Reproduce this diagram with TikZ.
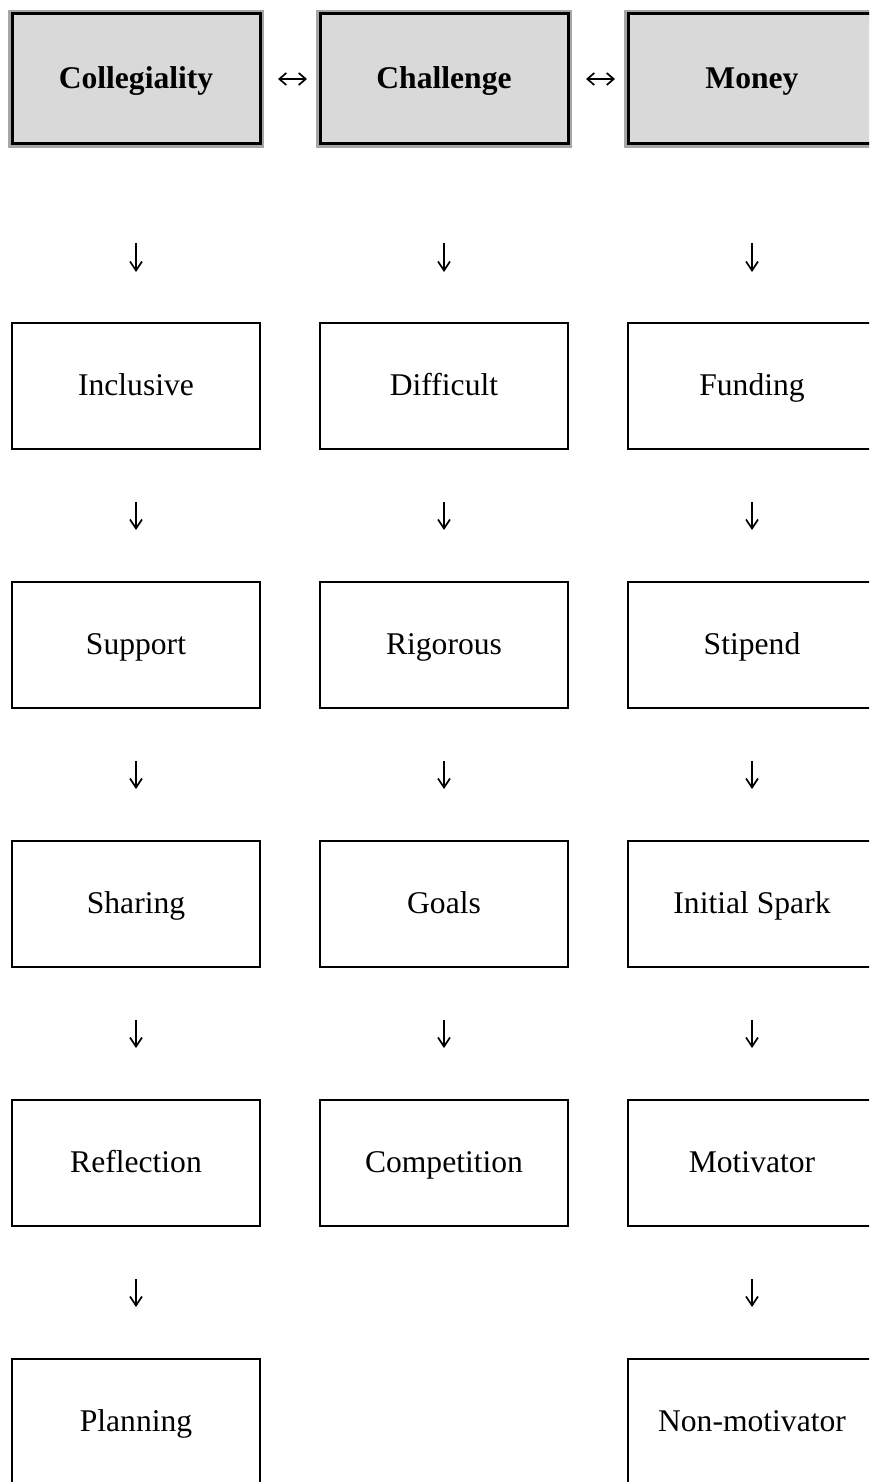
\documentclass[tikz,border=0pt]{standalone}
\usepackage{fontspec}
\setmainfont{Liberation Serif}
\usetikzlibrary{positioning, arrows.meta}

\begin{document}
\begin{tikzpicture}
    [
        node distance=129.5pt and 154pt, on grid, font=\fontsize{15.8}{19}\selectfont,
        head_box/.style={rectangle, draw=black, fill=black!15, line width=1.5pt, minimum width=124pt, minimum height=65pt, inner sep=0pt, outer sep=0pt, text height=1.1em, text depth=0.18em, font=\fontsize{15.8}{19}\selectfont\bfseries, preaction={draw=black!35, line width=4pt}},
        plain_box/.style={rectangle, draw=black, fill=white, line width=1pt, minimum width=124pt, minimum height=63pt, inner sep=0pt, outer sep=0pt, text height=1.1em, text depth=0.18em},
        down_arrow/.style={-{Straight Barb[length=4.5pt, width=6pt]}, line width=0.85pt, shorten <=26.5pt, shorten >=26pt},
        pair_arrow/.style={{Straight Barb[length=3.5pt, width=6pt]}-{Straight Barb[length=3.5pt, width=6pt]}, line width=0.85pt, shorten <=9pt, shorten >=6.5pt},
    ]
        \useasboundingbox (0pt,0pt) rectangle (434.5pt,-741pt) ;
        \clip (0pt,0pt) rectangle (434.5pt,-741pt) ;
        \node[head_box] (coll) at (68pt,-39.5pt) {Collegiality} ;
        \node[head_box] (chal) [right = of coll] {Challenge} ;
        \node[head_box] (money) [right = of chal] {Money} ;
        \node[plain_box] (incl) [below = 153.5pt of coll] {Inclusive} ;
        \node[plain_box] (supp) [below = of incl] {Support} ;
        \node[plain_box] (shar) [below = of supp] {Sharing} ;
        \node[plain_box] (refl) [below = of shar] {Reflection} ;
        \node[plain_box] (plan) [below = of refl] {Planning} ;
        \node[plain_box] (diff) [below = 153.5pt of chal] {Difficult} ;
        \node[plain_box] (rigo) [below = of diff] {Rigorous} ;
        \node[plain_box] (goal) [below = of rigo] {Goals} ;
        \node[plain_box] (comp) [below = of goal] {Competition} ;
        \node[plain_box] (fund) [below = 153.5pt of money] {Funding} ;
        \node[plain_box] (stip) [below = of fund] {Stipend} ;
        \node[plain_box] (spark) [below = of stip] {Initial Spark} ;
        \node[plain_box] (moti) [below = of spark] {Motivator} ;
        \node[plain_box] (nonmoti) [below = of moti] {Non-motivator} ;
        \draw[pair_arrow] (coll) -- (chal) ;
        \draw[pair_arrow] (chal) -- (money) ;
        \draw[down_arrow, shorten <=49.5pt, shorten >=25.5pt] (coll) -- (incl) ;
        \draw[down_arrow, shorten <=49.5pt, shorten >=25.5pt] (chal) -- (diff) ;
        \draw[down_arrow, shorten <=49.5pt, shorten >=25.5pt] (money) -- (fund) ;
        \draw[down_arrow] (incl) -- (supp) ;
        \draw[down_arrow] (supp) -- (shar) ;
        \draw[down_arrow] (shar) -- (refl) ;
        \draw[down_arrow] (refl) -- (plan) ;
        \draw[down_arrow] (diff) -- (rigo) ;
        \draw[down_arrow] (rigo) -- (goal) ;
        \draw[down_arrow] (goal) -- (comp) ;
        \draw[down_arrow] (fund) -- (stip) ;
        \draw[down_arrow] (stip) -- (spark) ;
        \draw[down_arrow] (spark) -- (moti) ;
        \draw[down_arrow] (moti) -- (nonmoti) ;
    \end{tikzpicture}
\end{document}
